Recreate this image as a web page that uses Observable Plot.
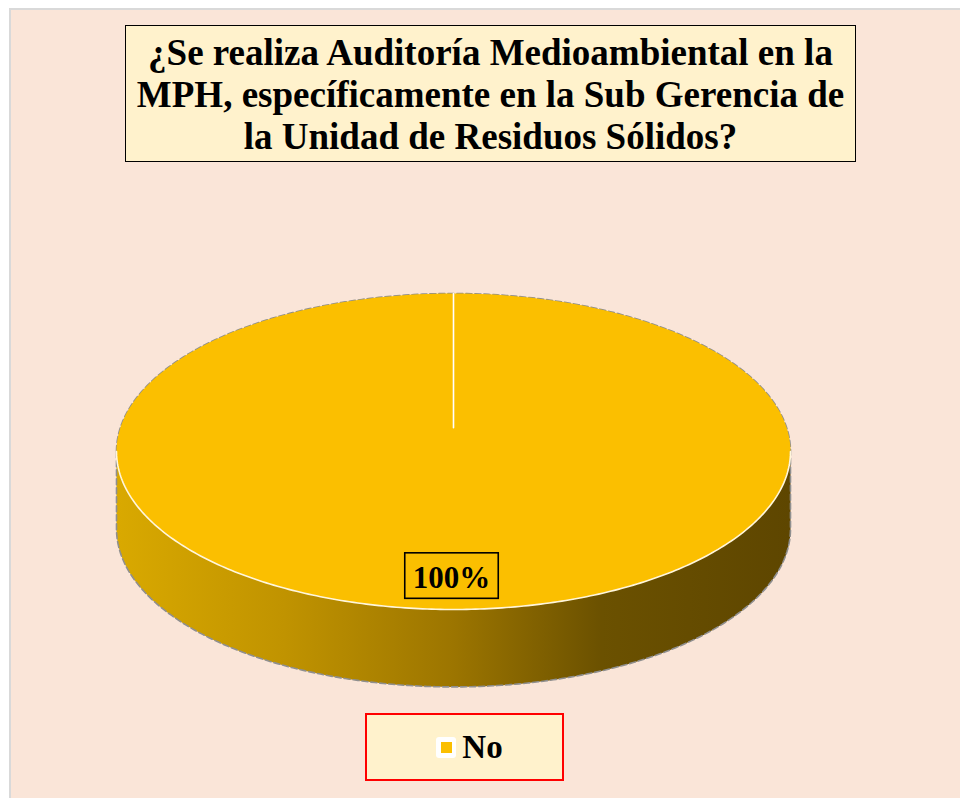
<!DOCTYPE html>
<html>
<head>
<meta charset="utf-8">
<script src="https://cdn.jsdelivr.net/npm/d3@7"></script>
<script src="https://cdn.jsdelivr.net/npm/@observablehq/plot@0.6"></script>
<style>
  html, body { margin: 0; padding: 0; background: #ffffff; }
  #page { position: relative; width: 960px; height: 798px; overflow: hidden; }
  #bg { position: absolute; left: 9px; top: 8px; width: 951px; height: 790px;
        background: #FAE5D8; border-left: 2px solid #d9d9d9; border-top: 2px solid #d9d9d9; box-sizing: border-box; }
  #title { position: absolute; left: 125px; top: 25px; width: 731px; height: 137px; box-sizing: border-box;
           background: #FFF2CC; border: 1.5px solid #000; text-align: center;
           font-family: "Liberation Serif", "Times New Roman", serif; font-weight: bold; font-size: 37px;
           line-height: 42px; padding-top: 6px; color: #000; white-space: nowrap; }
  #chart { position: absolute; left: 0; top: 0; }
  #legend { position: absolute; left: 365px; top: 713px; width: 199px; height: 68px; box-sizing: border-box;
            background: #FFF2CC; border: 2px solid #ff0000; display: flex; align-items: center; justify-content: center;
            padding-left: 10px;
            font-family: "Liberation Serif", "Times New Roman", serif; font-weight: bold; font-size: 33px; color: #000; }
  .sw { width: 20px; height: 21px; background: #fff; border-radius: 3px; display: flex; align-items: center; justify-content: center; margin-right: 6px; }
  .sw span { display: block; width: 11px; height: 11px; }
</style>
</head>
<body>
<div id="page">
  <div id="bg"></div>
  <div id="title"></div>
  <div id="chart"></div>
  <div id="legend"></div>
</div>
<script>
const titleLines = ["¿Se realiza Auditoría Medioambiental en la", "MPH, específicamente en la Sub Gerencia de", "la Unidad de Residuos Sólidos?"];
const categories = ["No"];
const values = [100];
const labels = ["100%"];
const colors = ["#FBBF00"];

document.getElementById("title").innerHTML = titleLines.join("<br>");

// pie geometry
const depth = 0.49;      // side thickness in unit y
const centerY = 0.15;    // perspective centre of top face
const N = 240;
const arcs = d3.pie().sort(null).value(d => d)(values);

const topPts = [];
arcs.forEach((a, i) => {
  const full = (a.endAngle - a.startAngle) >= 2 * Math.PI - 1e-9;
  if (!full) topPts.push({slice: categories[i], x: 0, y: centerY});
  for (let k = 0; k <= N; k++) {
    const t = a.startAngle + (a.endAngle - a.startAngle) * k / N;
    topPts.push({slice: categories[i], x: Math.sin(t), y: Math.cos(t)});
  }
});

// radial edges (white separators)
const edgePts = [];
arcs.forEach((a, i) => {
  edgePts.push({id: i, x: 0, y: centerY});
  edgePts.push({id: i, x: Math.sin(a.startAngle), y: Math.cos(a.startAngle)});
});

// side (front half): right -> bottom -> left
const front = [];
for (let k = 0; k <= N; k++) {
  const t = Math.PI / 2 + Math.PI * k / N;
  front.push({x: Math.sin(t), y: Math.cos(t)});
}
const sidePts = front.concat(front.slice().reverse().map(p => ({x: p.x, y: p.y - depth})));

// silhouette outline: back edge left -> top -> right, then lower front edge right -> left, close
const back = [];
for (let k = 0; k <= N; k++) {
  const t = -Math.PI / 2 + Math.PI * k / N;
  back.push({x: Math.sin(t), y: Math.cos(t)});
}
const bottomRL = front.map(p => ({x: p.x, y: p.y - depth}));
const outlinePts = back.concat(bottomRL, [back[0]]);

const labelPts = arcs.map((a, i) => {
  const m = (a.startAngle + a.endAngle) / 2;
  return {x: 0.8 * Math.sin(m), y: 0.8 * Math.cos(m), label: labels[i]};
});

const plot = Plot.plot({
  width: 960, height: 798,
  margin: 0,
  style: {background: "transparent", overflow: "visible"},
  x: {domain: [-1, 1], range: [116, 790], axis: null},
  y: {domain: [-1, 1], range: [609, 293], axis: null},
  color: {domain: categories, range: colors},
  marks: [
    Plot.line(sidePts, {x: "x", y: "y", fill: "url(#sideGrad)", stroke: "none", curve: "linear-closed"}),
    Plot.line(outlinePts, {x: "x", y: "y", stroke: "#8f8f8f", strokeWidth: 1.6, strokeDasharray: "6,3", fill: "none"}),
    Plot.line(topPts, {x: "x", y: "y", z: "slice", fill: "slice", stroke: "none", curve: "linear-closed"}),
    Plot.line(front, {x: "x", y: "y", stroke: "#fff6dc", strokeWidth: 1.6, fill: "none"}),
    Plot.line(edgePts, {x: "x", y: "y", z: "id", stroke: "#ffffff", strokeWidth: 1.6}),
    Plot.text(labelPts, {x: "x", y: "y", text: "label", fontSize: 31, fontWeight: "bold",
      fontFamily: "Liberation Serif, Times New Roman, serif", fill: "#000", dx: -2})
  ]
});

// gradient defs
const xs = plot.scale("x");
const ns = "http://www.w3.org/2000/svg";
const defs = document.createElementNS(ns, "defs");
const grad = document.createElementNS(ns, "linearGradient");
grad.setAttribute("id", "sideGrad");
grad.setAttribute("gradientUnits", "userSpaceOnUse");
grad.setAttribute("x1", xs.apply(-1)); grad.setAttribute("x2", xs.apply(1));
grad.setAttribute("y1", 0); grad.setAttribute("y2", 0);
[[0, "#D9A900"], [0.25, "#C09300"], [0.5, "#9C7500"], [0.72, "#6B5100"], [1, "#5E4600"]].forEach(([o, c]) => {
  const s = document.createElementNS(ns, "stop");
  s.setAttribute("offset", o); s.setAttribute("stop-color", c);
  grad.appendChild(s);
});
defs.appendChild(grad);
plot.insertBefore(defs, plot.firstChild);

document.getElementById("chart").appendChild(plot);

// boxes around data labels
plot.querySelectorAll('g[aria-label="text"] text').forEach(t => {
  const b = t.getBBox();
  const r = document.createElementNS(ns, "rect");
  r.setAttribute("x", b.x - 8); r.setAttribute("y", b.y - 7);
  r.setAttribute("width", b.width + 16); r.setAttribute("height", b.height + 10.5);
  r.setAttribute("fill", "none"); r.setAttribute("stroke", "#000"); r.setAttribute("stroke-width", 1.6);
  const tr = t.getAttribute("transform");
  if (tr) r.setAttribute("transform", tr);
  t.parentNode.insertBefore(r, t);
});

// legend
const lg = document.getElementById("legend");
categories.forEach((c, i) => {
  const sw = document.createElement("div"); sw.className = "sw";
  const sq = document.createElement("span"); sq.style.background = colors[i];
  sw.appendChild(sq);
  const tx = document.createElement("div"); tx.textContent = c;
  lg.appendChild(sw); lg.appendChild(tx);
});
</script>
</body>
</html>
